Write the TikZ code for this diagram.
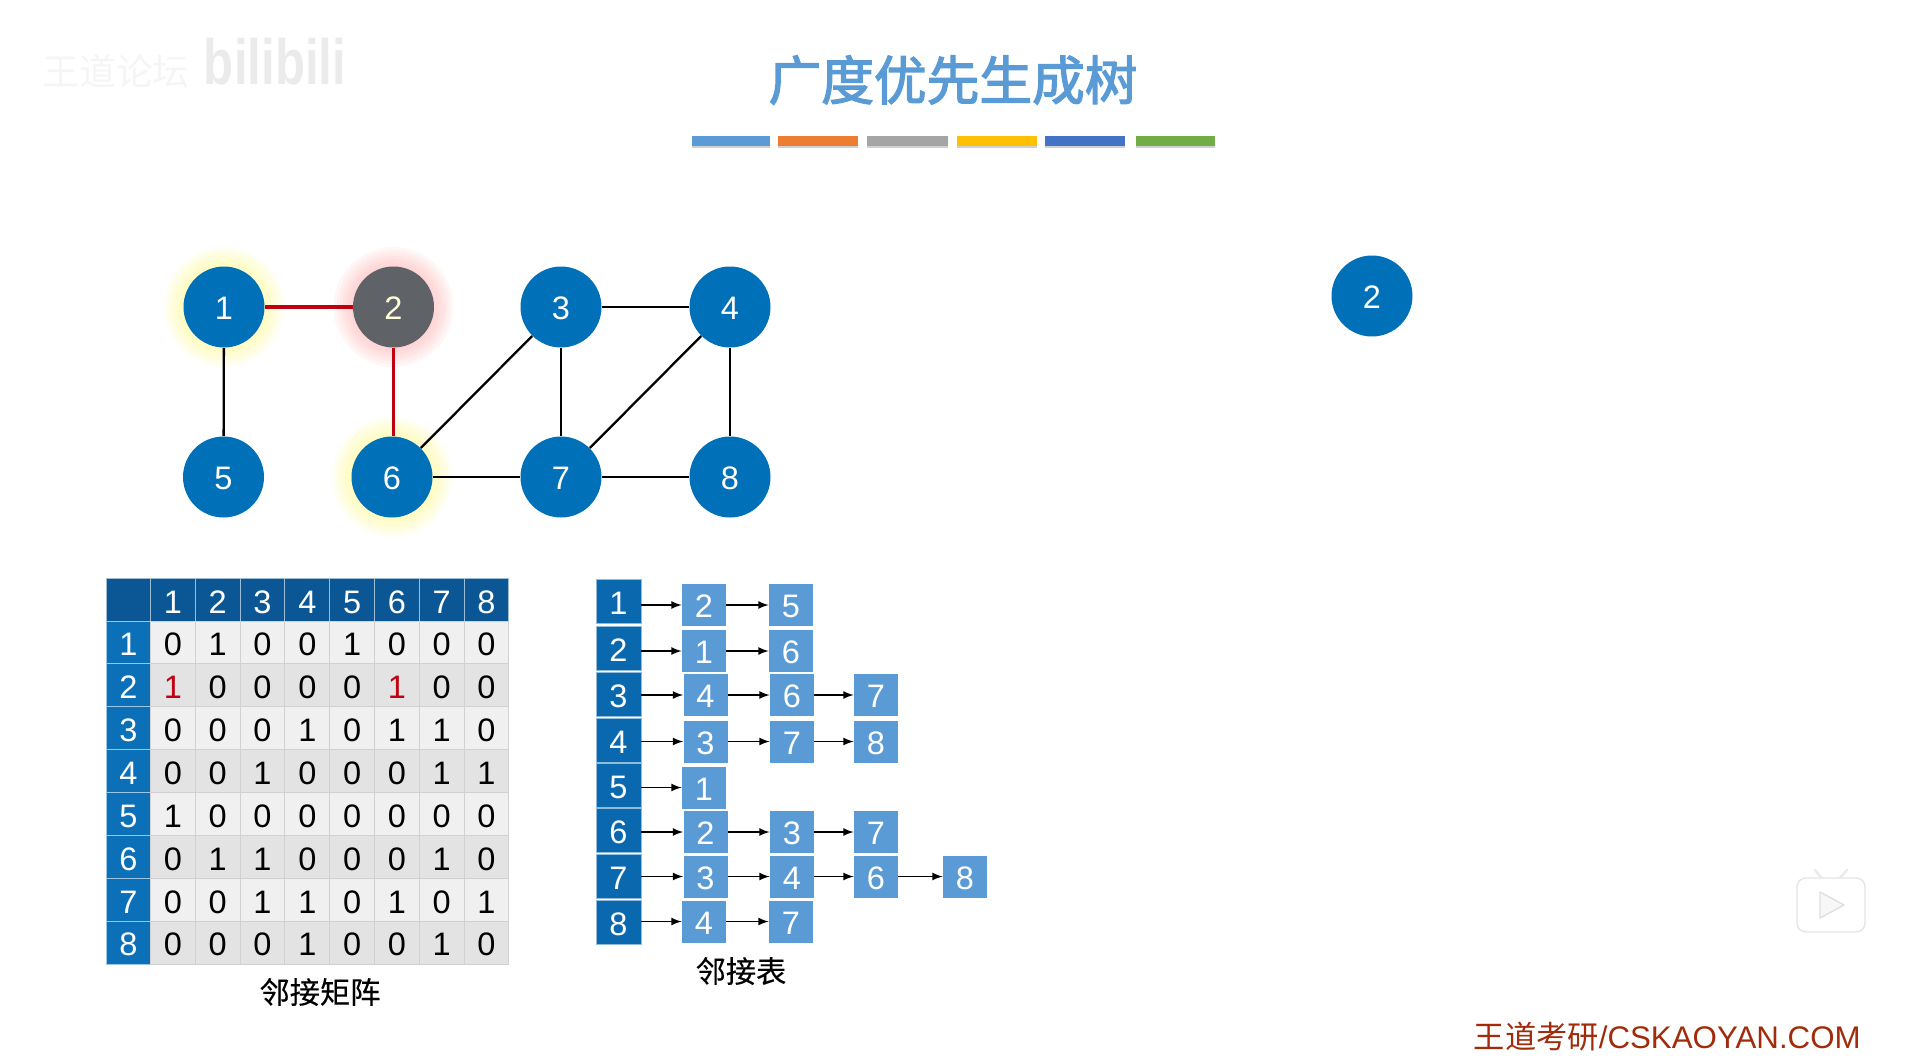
\documentclass[tikz,border=0pt]{standalone}
\usepackage{fontspec}
\usepackage{xcolor}
\usepackage{tikz}
\usetikzlibrary{backgrounds}
\setmainfont{Liberation Sans}
\newfontfamily\cjk{Noto Sans CJK SC}
\newfontfamily\cjktitle{Noto Sans CJK SC}[FakeBold=2.5]
\newfontfamily\cjkcaption{Noto Sans CJK SC}[FakeBold=0.3]

\definecolor{nodeblue}{HTML}{0070B8}
\definecolor{visitgray}{HTML}{5F6368}
\definecolor{headdark}{HTML}{0B5796}
\definecolor{headblue}{HTML}{0B70B8}
\definecolor{listdark}{HTML}{0A69AE}
\definecolor{listblue}{HTML}{5B9BD5}
\definecolor{edgered}{HTML}{C00010}
\definecolor{linkred}{HTML}{A02C0C}

\newcommand{\hit}{\textcolor{edgered}{1}}

\tikzset{
    digits/.style={font=\fontsize{18.5}{19}\selectfont, text height=15pt, text depth=0pt},
    vertex/.style={circle, fill=nodeblue, text=white, inner sep=0pt, minimum size=1.62cm, font=\fontsize{18.5}{19}\selectfont, text height=14.2pt, text depth=0pt},
    edge/.style={black, line width=1.3pt},
    treeedge/.style={edgered, line width=1.8pt},
    halo/.style={opacity=0.09},
    cell/.style={digits, draw=black!18, line width=0.5pt, inner sep=0pt, minimum width=0.896cm, minimum height=0.858cm},
    cell0/.style={cell, fill=black!11},
    cell1/.style={cell, fill=black!6},
    headcell/.style={cell, draw=white!60!headdark, fill=headdark, text=white},
    sidecell/.style={cell, draw=white!60!headblue, fill=headblue, text=white},
    listhead/.style={digits, draw=white!55!listdark, line width=0.5pt, fill=listdark, text=white, inner sep=0pt, minimum width=0.9cm, minimum height=0.88cm},
    listnode/.style={digits, text height=14.3pt, fill=listblue, text=white, inner sep=0pt, minimum width=0.88cm, minimum height=0.84cm},
    listarrow/.style={->, >=latex, black, line width=1pt},
    caption/.style={font=\fontsize{17.2}{18}\selectfont\cjkcaption},
}

\begin{document}
\begin{tikzpicture}[x=0.02cm, y=-0.02cm]
    \useasboundingbox (0,0) rectangle (1907,1062);

    % 1. Title and colour bars
    \node[text=listblue, font=\fontsize{30}{30}\selectfont\cjktitle] (title) at (953,80) {广度优先生成树};
    \foreach \xa/\xb/\barcolor in {692/770/5B9BD5, 778/858/ED7D31, 867/948/A5A5A5, 957/1037/FFC000, 1045/1125/4472C4, 1136/1215/70AD47} {
        \definecolor{barfill}{HTML}{\barcolor}
        \fill[black!18] (\xa,140) rectangle (\xb,148);
        \fill[barfill] (\xa,136) rectangle (\xb,146);
    }

    % 2. Watermarks
    \node[text=black!4, font=\fontsize{21}{22}\selectfont\cjk] (markcn) at (116,71) {王道论坛};
    \node[text=black!8, font=\fontsize{28}{28}\selectfont\bfseries, yscale=1.3] (markbl) at (275,62) {bilibili};

    % 3. Graph
    \node[vertex] (v1) at (224,307) {1};
    \node[vertex, fill=visitgray, text=yellow!15] (v2) at (393.5,307) {2};
    \node[vertex] (v3) at (561,307) {3};
    \node[vertex] (v4) at (730,307) {4};
    \node[vertex] (v5) at (223.5,477) {5};
    \node[vertex] (v6) at (392,477) {6};
    \node[vertex] (v7) at (561,477) {7};
    \node[vertex] (v8) at (730,477) {8};

    \foreach \a/\b in {1/5, 3/4, 3/6, 3/7, 4/7, 4/8, 6/7, 7/8}
        \draw[edge] (v\a) -- (v\b);
    \draw[treeedge] (v1) -- (v2);
    \draw[treeedge] (v2) -- (v2 |- v6.north);

    % Glow round the visited vertices
    \begin{scope}[on background layer]
        \foreach \rad in {42,45,...,60} {
            \fill[halo, yellow!50] (v1) circle (\rad);
            \fill[halo, yellow!50] (v6) circle (\rad);
            \fill[halo, red!35] (v2) circle (\rad);
        }
    \end{scope}

    % Spanning tree on the right
    \node[vertex] (t2) at (1372,296) {2};

    % 4. Adjacency matrix
    \node[headcell] (m00) at (128.5,600) {};
    \foreach \c in {1,...,8}
        \node[headcell] (m0\c) at ({150.5+44.8*(\c-0.5)},600) {\c};
    \foreach \rowdata [count=\r] in {{0,1,0,0,1,0,0,0}, {\hit,0,0,0,0,\hit,0,0}, {0,0,0,1,0,1,1,0}, {0,0,1,0,0,0,1,1}, {1,0,0,0,0,0,0,0}, {0,1,1,0,0,0,1,0}, {0,0,1,1,0,1,0,1}, {0,0,0,1,0,0,1,0}} {
        \pgfmathtruncatemacro{\tone}{mod(\r,2)}
        \node[sidecell] (m\r0) at (128.5,{621+42.9*(\r-0.5)}) {\r};
        \foreach \val [count=\c] in \rowdata
            \node[cell\tone] (m\r\c) at ({150.5+44.8*(\c-0.5)},{621+42.9*(\r-0.5)}) {\val};
    }
    \node[caption] (matcap) at (320,992) {邻接矩阵};

    % 5. Adjacency list
    \foreach \i/\ypos in {1/601, 2/648, 3/694, 4/740, 5/785, 6/830.5, 7/876, 8/922}
        \node[listhead] (h\i) at (618.5,\ypos) {\i};

    \node[listnode] (l11) at (704,605) {2};
    \node[listnode] (l12) at (791,605) {5};
    \node[listnode] (l21) at (704,651) {1};
    \node[listnode] (l22) at (791,651) {6};
    \node[listnode] (l31) at (705.5,695) {4};
    \node[listnode] (l32) at (792,695) {6};
    \node[listnode] (l33) at (876,695) {7};
    \node[listnode] (l41) at (705.5,741.5) {3};
    \node[listnode] (l42) at (792,741.5) {7};
    \node[listnode] (l43) at (876,741.5) {8};
    \node[listnode] (l51) at (704,787.5) {1};
    \node[listnode] (l61) at (705.5,832) {2};
    \node[listnode] (l62) at (792,832) {3};
    \node[listnode] (l63) at (876,832) {7};
    \node[listnode] (l71) at (705.5,876.5) {3};
    \node[listnode] (l72) at (792,876.5) {4};
    \node[listnode] (l73) at (876,876.5) {6};
    \node[listnode] (l74) at (965,876.5) {8};
    \node[listnode] (l81) at (704,921.5) {4};
    \node[listnode] (l82) at (791,921.5) {7};

    \foreach \i in {1,...,8}
        \draw[listarrow] (h\i.east |- l\i1.west) -- (l\i1.west);
    \foreach \a/\b in {l11/l12, l21/l22, l31/l32, l32/l33, l41/l42, l42/l43, l61/l62, l62/l63, l71/l72, l72/l73, l73/l74, l81/l82}
        \draw[listarrow] (\a) -- (\b);
    \node[caption] (listcap) at (741,971) {邻接表};

    % 6. Site link and player icon
    \node[anchor=east, text=linkred, inner sep=0pt, font=\fontsize{17.8}{18}\selectfont] (link) at (1861,1037) {{\cjk 王道考研}/CSKAOYAN.COM};

    \draw[black!8, fill=white, line width=1.4pt, line cap=round] (1815,870) -- (1823,880) (1847,870) -- (1838,880);
    \draw[black!10, fill=white, line width=0.8pt, rounded corners=5pt] (1797,878) rectangle (1865,932);
    \draw[black!12, fill=black!3, line width=0.8pt, line join=round] (1820,892) -- (1844,905) -- (1820,918) -- cycle;
\end{tikzpicture}
\end{document}
